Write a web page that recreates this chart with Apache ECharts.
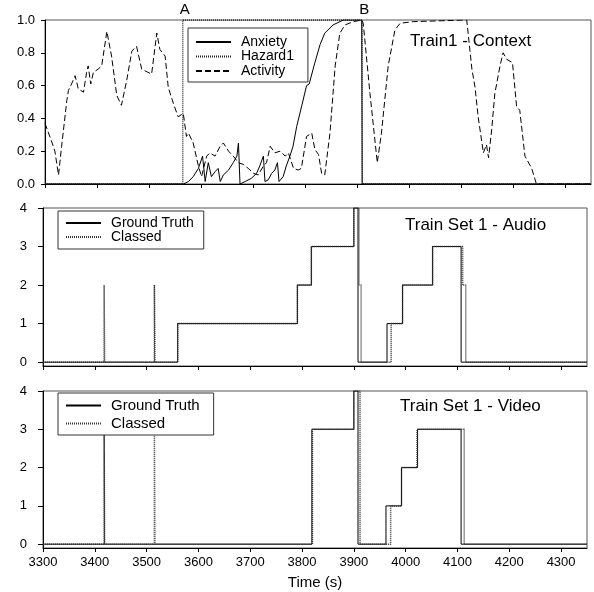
<!DOCTYPE html>
<html>
<head>
<meta charset="utf-8">
<script src="https://cdn.jsdelivr.net/npm/echarts@6/dist/echarts.min.js"></script>
<style>
  html, body { margin: 0; padding: 0; background: #fff; }
  #chart { width: 594px; height: 592px; }
</style>
</head>
<body>
<div id="chart"></div>
<script>
// shared x axis
var xTicks = [3300, 3400, 3500, 3600, 3700, 3800, 3900, 4000, 4100, 4200, 4300];
var stepTicks = [0, 1, 2, 3, 4];

// top panel: Train1 - Context
var actT = [3300, 3303, 3316, 3319, 3326, 3332, 3342, 3345, 3351, 3358, 3364, 3374, 3380, 3383, 3388, 3393, 3402, 3409, 3419, 3428,
            3438, 3447, 3457, 3467, 3476, 3486, 3505, 3515, 3521, 3531, 3537, 3547, 3556, 3566, 3572, 3576, 3585, 3595, 3601, 3611,
            3617, 3627, 3637, 3643, 3653, 3662, 3672, 3681, 3691, 3701, 3710, 3720, 3726, 3733, 3742, 3752, 3762, 3768, 3778, 3787,
            3793, 3803, 3813, 3819, 3826, 3832, 3838, 3848, 3858, 3867, 3877, 3893, 3909, 3912, 3925, 3939, 3947, 3960, 3973, 3983,
            4008, 4111, 4121, 4127, 4133, 4143, 4149, 4153, 4159, 4165, 4175, 4181, 4188, 4199, 4207, 4213, 4223, 4236, 4245, 4350];
var actV = [0.37, 0.36, 0.23, 0.20, 0.055, 0.23, 0.51, 0.57, 0.61, 0.66, 0.58, 0.56, 0.68, 0.72, 0.61, 0.68, 0.70, 0.72, 0.93, 0.78,
            0.54, 0.48, 0.63, 0.81, 0.84, 0.70, 0.67, 0.92, 0.82, 0.78, 0.59, 0.49, 0.41, 0.43, 0.29, 0.31, 0.25, 0.11, 0.045, 0.17,
            0.19, 0.17, 0.23, 0.25, 0.20, 0.17, 0.13, 0.12, 0.095, 0.065, 0.055, 0.11, 0.13, 0.23, 0.19, 0.20, 0.17, 0.19, 0.095, 0.085,
            0.095, 0.29, 0.31, 0.21, 0.18, 0.065, 0.055, 0.31, 0.72, 0.92, 0.97, 0.99, 1.0, 0.98, 0.55, 0.13, 0.31, 0.72, 0.94, 0.98,
            0.99, 1.0, 0.70, 0.59, 0.41, 0.19, 0.24, 0.16, 0.33, 0.55, 0.72, 0.80, 0.76, 0.74, 0.47, 0.45, 0.17, 0.095, 0, 0];

var anxT = [3300, 3566, 3576, 3585, 3595, 3603, 3604, 3608, 3614, 3620, 3627, 3633, 3637, 3643, 3653, 3662, 3669, 3672, 3675, 3685,
            3697, 3707, 3713, 3720, 3723, 3729, 3736, 3742, 3747, 3750, 3758, 3764, 3771, 3777, 3784, 3794, 3803, 3808, 3819, 3829,
            3838, 3854, 3874, 3909, 3910, 4350];
var anxV = [0, 0, 0.015, 0.045, 0.095, 0.17, 0.17, 0.015, 0.13, 0.045, 0.075, 0.095, 0.015, 0.055, 0.085, 0.13, 0.17, 0.25, 0, 0.015,
            0.035, 0.065, 0.11, 0.17, 0.015, 0.025, 0.065, 0.085, 0.13, 0.015, 0.045, 0.11, 0.17, 0.23, 0.35, 0.48, 0.6, 0.61, 0.74, 0.85,
            0.92, 0.97, 1.0, 1.0, 0, 0];

var hazT = [3300, 3565, 3910, 4350];
var hazV = [0, 1, 0, 0];
var eventT = [3565, 3910];
var eventNames = ['A', 'B'];

// middle panel: audio
var audGtT = [3300, 3560, 3791, 3818, 3900, 3908, 3964, 3994, 4052, 4107, 4350];
var audGtV = [0, 1, 2, 3, 4, 0, 1, 2, 3, 0, 0];
var audClT = [3300, 3418, 3419, 3515, 3516, 3560, 3791, 3818, 3900, 3910, 3914, 3972, 3994, 4052, 4110, 4116, 4350];
var audClV = [0, 2, 0, 2, 0, 1, 2, 3, 4, 2, 0, 1, 2, 3, 2, 0, 0];

// bottom panel: video
var vidGtT = [3300, 3819, 3900, 3908, 3962, 3992, 4023, 4107, 4350];
var vidGtV = [0, 3, 4, 0, 1, 2, 3, 0, 0];
var vidClT = [3300, 3418, 3419, 3515, 3516, 3820, 3900, 3912, 3971, 3992, 4022, 4113, 4350];
var vidClV = [0, 3, 0, 3, 0, 3, 4, 0, 1, 2, 3, 0, 0];

var fontFamily = "'Liberation Sans', Arial, sans-serif";
var fontColor = "#000";

function zip(t, v) {
    return t.map(function (x, i) { return [x, v[i]]; });
}

var chart = echarts.init(document.getElementById('chart'));

var grids = [
    { left: 45, top: 20, width: 546, height: 164 },
    { left: 43, top: 208, width: 544, height: 158 },
    { left: 43, top: 391, width: 544, height: 157 }
];

var xAxes = grids.map(function (g, i) {
    return {
        gridIndex: i,
        type: 'value',
        min: 3300,
        max: 4350,
        axisLine: { show: true, onZero: false, lineStyle: { color: '#000', width: 1 } },
        axisTick: { show: true, customValues: xTicks, length: 4, lineStyle: { color: '#000' } },
        axisLabel: { show: i === 2, customValues: xTicks, fontSize: 13, color: fontColor, fontFamily: fontFamily, margin: 8,
                     formatter: function (v) { return String(v); } },
        splitLine: { show: false },
        name: i === 2 ? 'Time (s)' : '',
        nameLocation: 'middle',
        nameGap: 27,
        nameTextStyle: { fontSize: 15, color: fontColor, fontFamily: fontFamily }
    };
});

var yAxes = [
    {
        gridIndex: 0, type: 'value', min: 0, max: 1, interval: 0.2,
        axisLine: { show: true, lineStyle: { color: '#000' } },
        axisTick: { show: true, length: 4, lineStyle: { color: '#000' } },
        axisLabel: { fontSize: 13, color: fontColor, fontFamily: fontFamily, margin: 10,
                     formatter: function (v) { return v.toFixed(1); } },
        splitLine: { show: false }
    }
];
[1, 2].forEach(function (i) {
    yAxes.push({
        gridIndex: i, type: 'value', min: -0.1, max: 4,
        axisLine: { show: true, lineStyle: { color: '#000' } },
        axisTick: { show: true, customValues: stepTicks, length: 5, lineStyle: { color: '#000' } },
        axisLabel: { customValues: stepTicks, fontSize: 13, color: fontColor, fontFamily: fontFamily, margin: 16 },
        splitLine: { show: false }
    });
});

function lineSeries(name, idx, data, style, extra) {
    var s = {
        name: name,
        type: 'line',
        xAxisIndex: idx,
        yAxisIndex: idx,
        data: data,
        showSymbol: false,
        symbol: 'none',
        animation: false,
        lineStyle: style,
        itemStyle: { color: style.color }
    };
    for (var k in extra) s[k] = extra[k];
    return s;
}

var gtStyle = { color: '#000', width: 1, type: 'solid' };
var clStyle = { color: '#333', width: 1.5, type: [1, 1] };

var series = [
    lineSeries('Anxiety', 0, zip(anxT, anxV), { color: '#000', width: 1, type: 'solid' }),
    lineSeries('Hazard1', 0, zip(hazT, hazV), { color: '#222', width: 1.3, type: [1, 1] }, {
        step: 'end',
        markPoint: {
            symbol: 'circle',
            symbolSize: 0.01,
            silent: true,
            label: { show: true, position: 'top', distance: 3, offset: [2, 0], formatter: '{b}',
                     fontSize: 15, color: fontColor, fontFamily: fontFamily },
            data: eventT.map(function (t, i) { return { name: eventNames[i], coord: [t, 1] }; })
        }
    }),
    lineSeries('Activity', 0, zip(actT, actV), { color: '#000', width: 1, type: [6, 3] }),
    lineSeries('Ground Truth', 1, zip(audGtT, audGtV), gtStyle, { step: 'end' }),
    lineSeries('Classed', 1, zip(audClT, audClV), clStyle, { step: 'end' }),
    lineSeries('Ground Truth', 2, zip(vidGtT, vidGtV), gtStyle, { step: 'end' }),
    lineSeries('Classed', 2, zip(vidClT, vidClV), clStyle, { step: 'end' })
];

var legendBase = {
    orient: 'vertical',
    selectedMode: false,
    itemWidth: 35,
    itemHeight: 14,
    itemStyle: { opacity: 0 },
    backgroundColor: '#fff',
    borderColor: '#333',
    borderWidth: 1,
    textStyle: { fontSize: 14, color: fontColor, fontFamily: fontFamily, padding: [0, 0, 0, 5] }
};

function legend(extra) {
    var l = JSON.parse(JSON.stringify(legendBase));
    for (var k in extra) l[k] = extra[k];
    return l;
}

var option = {
    backgroundColor: '#fff',
    animation: false,
    title: [
        { text: 'Train1 - Context', left: 410, top: 33, padding: 0,
          textStyle: { fontSize: 17, fontWeight: 'normal', color: fontColor, fontFamily: fontFamily } },
        { text: 'Train Set 1 - Audio', left: 405, top: 217, padding: 0,
          textStyle: { fontSize: 17, fontWeight: 'normal', color: fontColor, fontFamily: fontFamily } },
        { text: 'Train Set 1 - Video', left: 400, top: 398, padding: 0,
          textStyle: { fontSize: 17, fontWeight: 'normal', color: fontColor, fontFamily: fontFamily } }
    ],
    legend: [
        legend({ left: 188, top: 28, padding: [7, 14, 4, 7], itemGap: 0.5, data: ['Anxiety', 'Hazard1', 'Activity'] }),
        legend({ left: 58, top: 211, padding: [5, 10, 5, 7], itemGap: 0, data: ['Ground Truth', 'Classed'] }),
        legend({ left: 58, top: 393, padding: [5, 14, 4, 7], itemGap: 3, data: ['Ground Truth', 'Classed'],
                 textStyle: { fontSize: 15, color: fontColor, fontFamily: fontFamily, padding: [0, 0, 0, 5] } })
    ],
    grid: grids.map(function (g) {
        return { left: g.left, top: g.top, width: g.width, height: g.height, show: true,
                 borderColor: '#555', borderWidth: 1, backgroundColor: 'transparent' };
    }),
    xAxis: xAxes,
    yAxis: yAxes,
    series: series
};

chart.setOption(option);
</script>
</body>
</html>
